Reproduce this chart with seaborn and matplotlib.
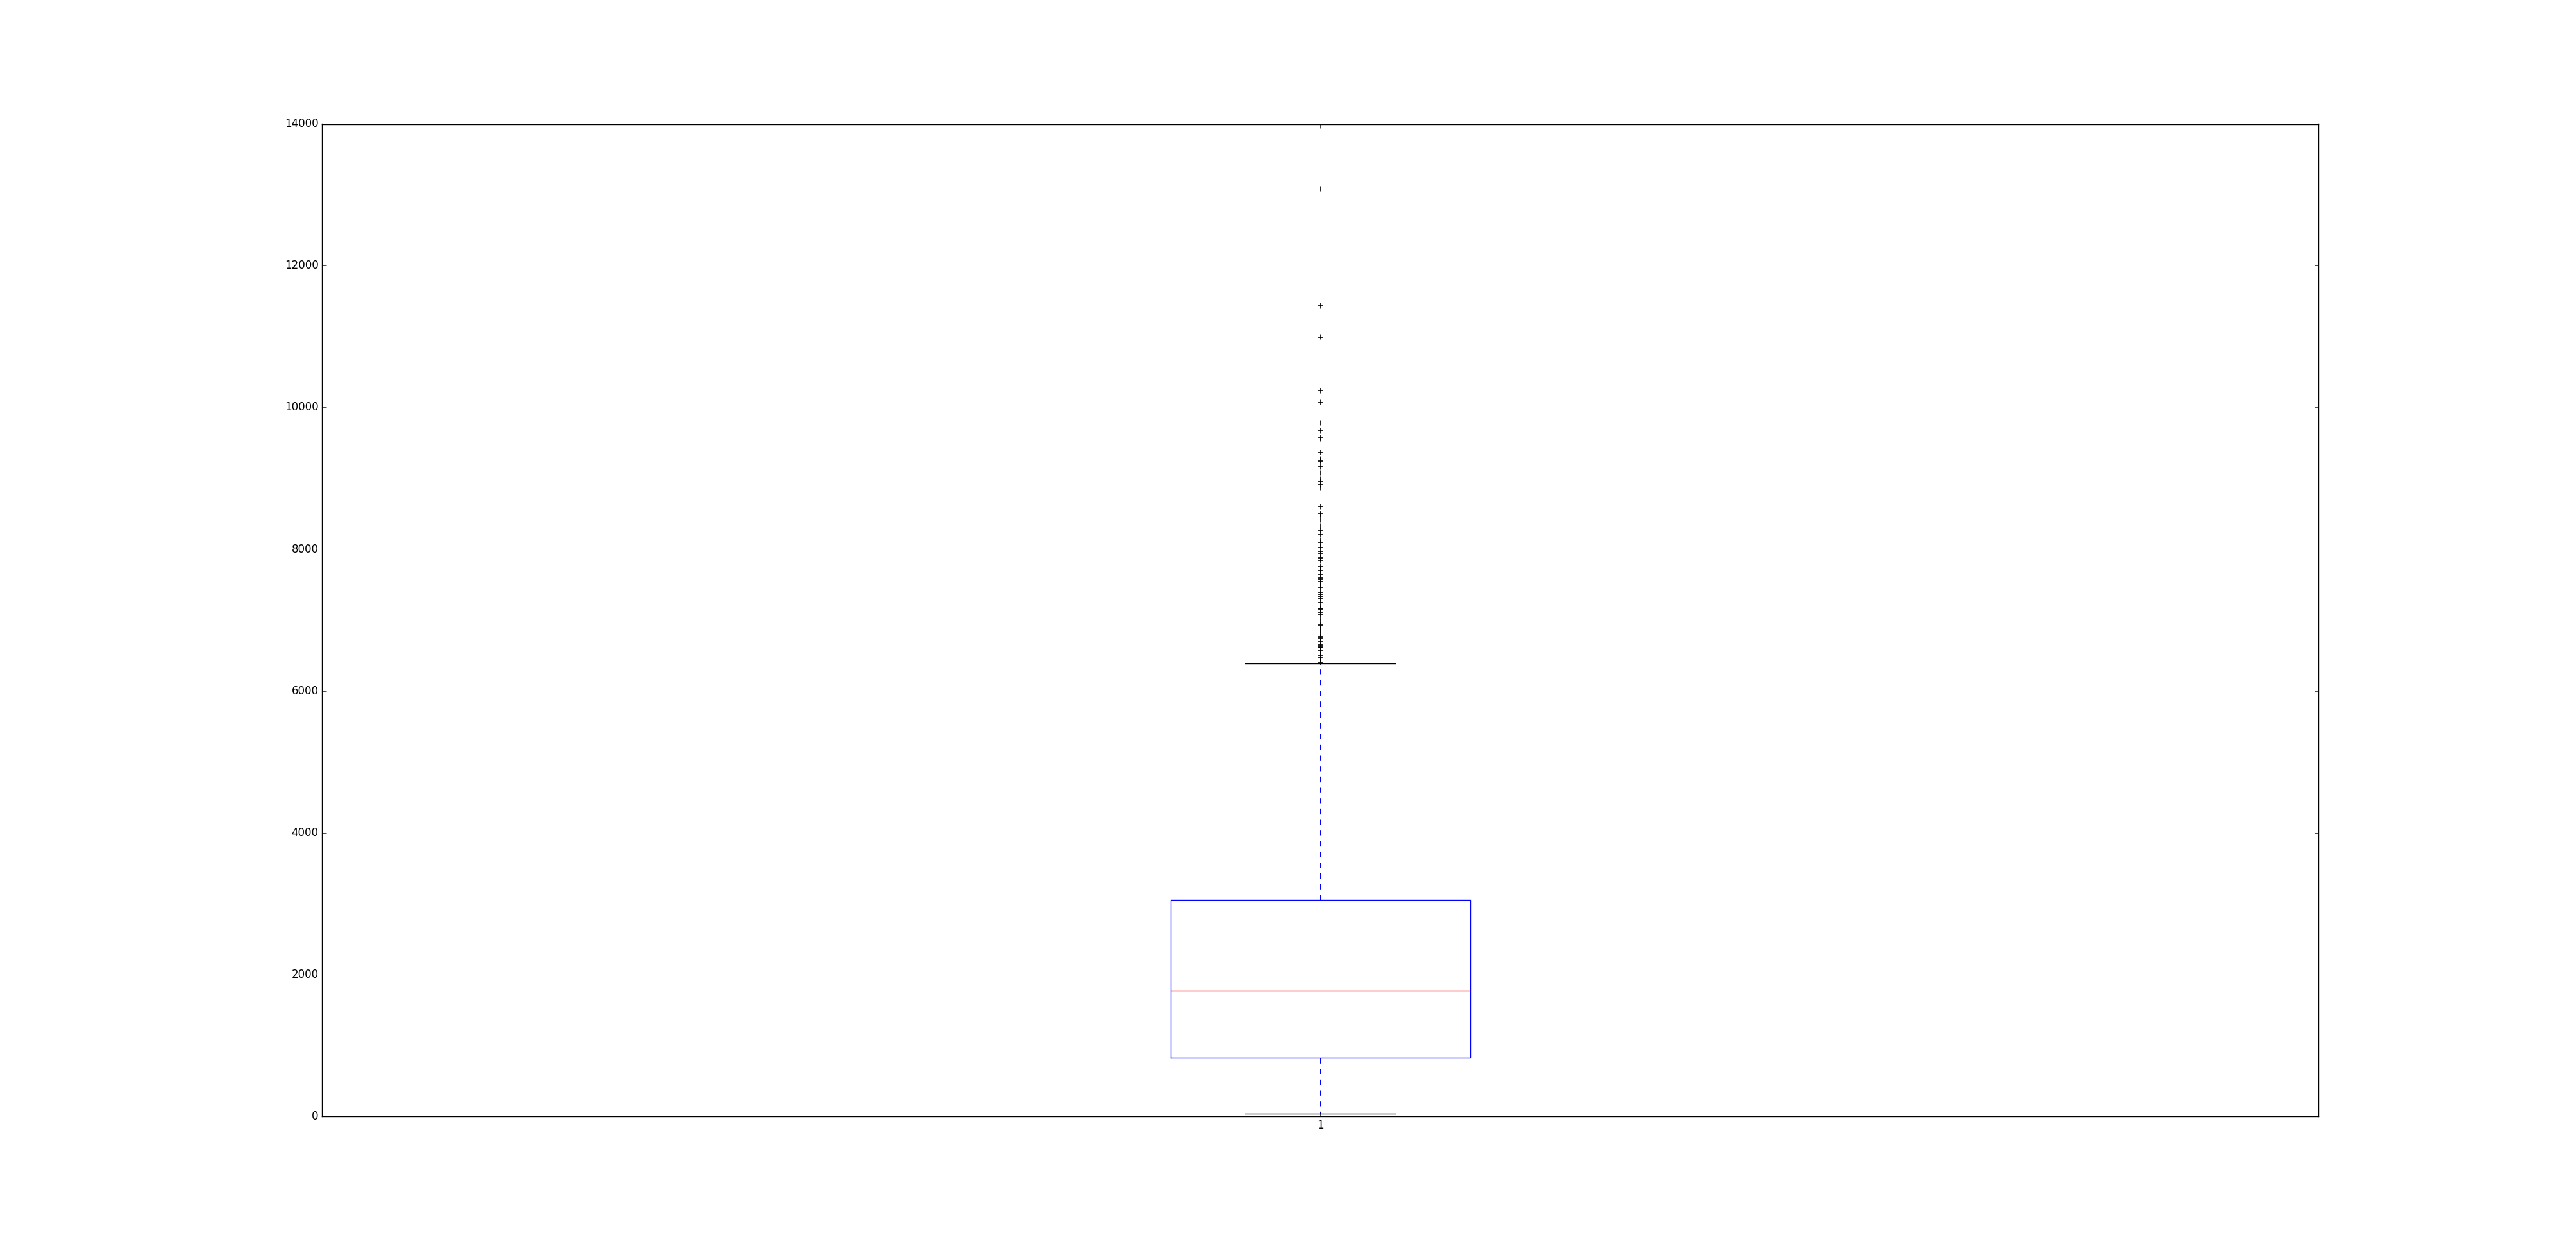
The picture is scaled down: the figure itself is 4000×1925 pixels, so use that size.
import matplotlib
matplotlib.use("Agg")
import matplotlib.pyplot as plt
import seaborn as sns
import numpy as np
import pandas as pd

# ---- values ----
category = "1"
lower_whisker = 36
q1 = 827
median = 1772
q3 = 3054
upper_whisker = 6386
outliers = [
    13088, 11443, 10997, 10240, 10080, 9786, 9680, 9575, 9560, 9367,
    9280, 9258, 9237, 9164, 9073, 8998, 8958, 8916, 8871, 8607,
    8507, 8490, 8483, 8416, 8328, 8265, 8216, 8130, 8092, 8047,
    8035, 7971, 7937, 7889, 7877, 7870, 7844, 7762, 7740, 7719,
    7700, 7695, 7653, 7604, 7585, 7580, 7549, 7515, 7510, 7488,
    7483, 7456, 7398, 7368, 7331, 7308, 7246, 7189, 7170, 7165,
    7155, 7150, 7110, 7089, 7029, 6980, 6944, 6922, 6901, 6877,
    6853, 6801, 6767, 6762, 6741, 6701, 6659, 6640, 6635, 6616,
    6611, 6574, 6538, 6508, 6477, 6443, 6438, 6404,
]
yticks = [0, 2000, 4000, 6000, 8000, 10000, 12000, 14000]

# sample that reproduces the five-number summary above
block = 130
values = ([lower_whisker] + [q1] * block + [median] * block + [q3] * block
          + [upper_whisker] + outliers)
df = pd.DataFrame({"group": [category] * len(values), "value": values})

plt.style.use("classic")
fig = plt.figure(figsize=(40, 19.25), dpi=100, facecolor="white")
ax = fig.add_subplot(111)
ax.set_facecolor("white")

sns.boxplot(
    data=df, x="group", y="value", ax=ax, width=0.15, fill=False, whis=1.5,
    color="blue", linewidth=1.0,
    boxprops=dict(color="blue"),
    whiskerprops=dict(color="blue", linestyle="--"),
    capprops=dict(color="black"),
    medianprops=dict(color="red"),
    flierprops=dict(marker="+", markeredgecolor="black", markerfacecolor="none",
                    markersize=6, markeredgewidth=0.6),
)

ax.set_ylim(0, 14000)
ax.set_yticks(yticks)
ax.set_xlim(-0.5, 0.5)
ax.set_xlabel("")
ax.set_ylabel("")
ax.grid(False)
ax.tick_params(direction="in", top=True, right=True, labelsize=12)
for s in ax.spines.values():
    s.set_visible(True)
    s.set_color("black")
    s.set_linewidth(1.0)

fig.subplots_adjust(left=0.125, right=0.9, bottom=0.1, top=0.9)
fig.savefig("out.png", dpi=100, facecolor="white")
